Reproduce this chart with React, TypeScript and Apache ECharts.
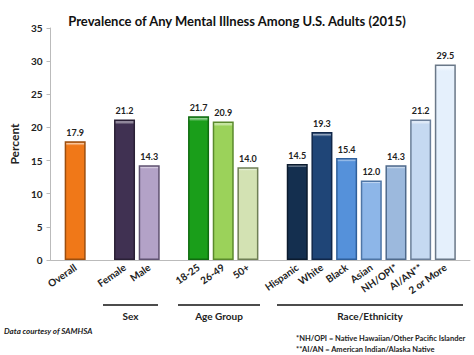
import React, { useEffect, useRef } from "react";
import * as echarts from "echarts";

const TITLE = "Prevalence of Any Mental Illness Among U.S. Adults (2015)";
const categories = ["", "Overall", "", "Female", "Male", "", "18-25", "26-49", "50+", "", "Hispanic", "White", "Black", "Asian", "NH/OPI*", "AI/AN**", "2 or More", ""];
const values: (number | null)[] = [null, 17.9, null, 21.2, 14.3, null, 21.7, 20.9, 14.0, null, 14.5, 19.3, 15.4, 12.0, 14.3, 21.2, 29.5, null];
const fills = ["", "#F07818", "", "#403152", "#B3A2C7", "", "#1A9E1A", "#9BD25A", "#D3E2B3", "", "#142F4F", "#1F4577", "#5591DA", "#8DB6E8", "#9CB9DD", "#C5D9F1", "#E5F0FC", ""];
const borders = ["", "#9C4E0E", "", "#2A2036", "#5F5270", "", "#0F6B0F", "#5A8A2C", "#6F7F55", "", "#0B1B2E", "#10274A", "#2F5F9A", "#4F76A6", "#4F6A8C", "#6B7F99", "#6A7888", ""];
const yTicks = { min: 0, max: 35, interval: 5 };
const groupNames = ["Sex", "Age Group", "Race/Ethnicity"];
const footnotes = ["*NH/OPI = Native Hawaiian/Other Pacific Islander", "**AI/AN = American Indian/Alaska Native"];
const credit = "Data courtesy of SAMHSA";

const FONT = "Lato, 'Liberation Sans', sans-serif";

function lighten(hex: string, amt: number) {
  const n = parseInt(hex.slice(1), 16);
  const r = (n >> 16) & 255, g = (n >> 8) & 255, b = n & 255;
  const f = (c: number) => Math.round(c + (255 - c) * amt);
  return `rgb(${f(r)},${f(g)},${f(b)})`;
}

export default function App() {
  const ref = useRef<HTMLDivElement>(null);
  useEffect(() => {
    if (!ref.current) return;
    const chart = echarts.init(ref.current, undefined, { renderer: "svg" });
    const data = values.map((v, i) =>
      v == null
        ? null
        : {
            value: v,
            itemStyle: {
              color: {
                type: "linear", x: 0, y: 0, x2: 0, y2: 1,
                colorStops: [
                  { offset: 0, color: fills[i] },
                  { offset: 0.012, color: lighten(fills[i], 0.55) },
                  { offset: 0.03, color: fills[i] },
                  { offset: 1, color: fills[i] },
                ],
              },
              borderColor: borders[i],
              borderWidth: 1.5,
            },
          }
    );
    const groupLines = [
      { x1: 103, x2: 158, label: groupNames[0] },
      { x1: 178, x2: 260, label: groupNames[1] },
      { x1: 277, x2: 463, label: groupNames[2] },
    ];
    const graphics: any[] = [];
    groupLines.forEach((g) => {
      graphics.push({
        type: "line",
        shape: { x1: g.x1, y1: 305, x2: g.x2, y2: 305 },
        style: { stroke: "#111", lineWidth: 1.3 },
      });
      graphics.push({
        type: "text",
        x: (g.x1 + g.x2) / 2,
        y: 316,
        style: { text: g.label, font: `bold 10px ${FONT}`, fill: "#222", align: "center", verticalAlign: "middle" },
      });
    });
    graphics.push({
      type: "text", x: 4, y: 331,
      style: { text: credit, font: `italic bold 8px ${FONT}`, fill: "#222", align: "left", verticalAlign: "middle" },
    });
    footnotes.forEach((t, i) => {
      graphics.push({
        type: "text", x: 296, y: 338 + i * 11,
        style: { text: t, font: `bold 7.5px ${FONT}`, fill: "#222", align: "left", verticalAlign: "middle" },
      });
    });
    chart.setOption({
      animation: false,
      title: {
        text: TITLE,
        left: "center",
        top: 9,
        textStyle: { fontFamily: FONT, fontSize: 13, fontWeight: "bold", color: "#111" },
      },
      grid: { left: 46, right: 4, top: 28, bottom: 95 },
      xAxis: {
        type: "category",
        data: categories,
        boundaryGap: false,
        axisLine: { lineStyle: { color: "#BBBBBB" } },
        axisTick: { show: false },
        axisLabel: {
          interval: 0, rotate: 35, margin: 6,
          fontFamily: FONT, fontSize: 10, fontWeight: "bold", color: "#222",
        },
      },
      yAxis: {
        type: "value",
        ...yTicks,
        name: "Percent",
        nameLocation: "middle",
        nameGap: 22,
        nameTextStyle: { fontFamily: FONT, fontSize: 12, fontWeight: "bold", color: "#222" },
        axisLine: { show: true, lineStyle: { color: "#BBBBBB" } },
        axisTick: { show: true, length: 4, lineStyle: { color: "#BBBBBB" } },
        axisLabel: { fontFamily: FONT, fontSize: 10, fontWeight: "bold", color: "#222", margin: 8 },
        splitLine: { show: false },
      },
      series: [
        {
          type: "bar",
          data,
          barWidth: 21,
          label: {
            show: true, position: "top", distance: 4,
            fontFamily: FONT, fontSize: 9, fontWeight: "bold", color: "#222",
            formatter: (p: any) => Number(p.value).toFixed(1),
          },
        },
      ],
      graphic: graphics,
    });
    return () => chart.dispose();
  }, []);
  return <div ref={ref} style={{ width: 474, height: 355, position: "absolute", left: 0, top: 0, background: "#fff" }} />;
}
